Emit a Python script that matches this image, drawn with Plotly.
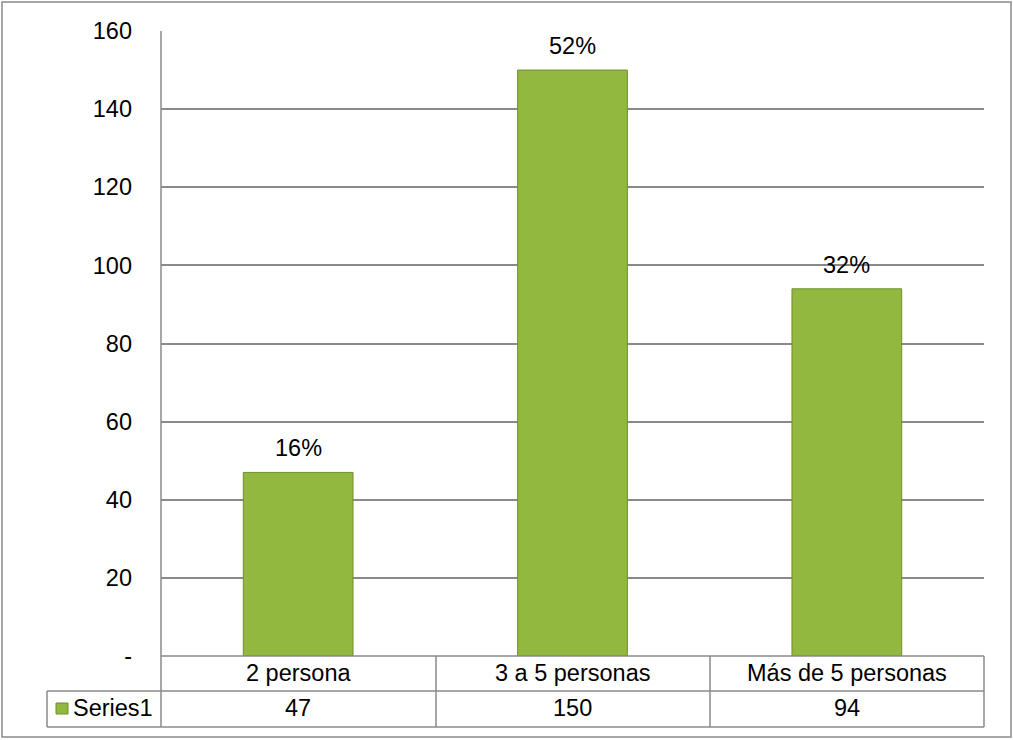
import plotly.graph_objects as go

categories = ["2 persona", "3 a 5 personas", "Más de 5 personas"]
values = [47, 150, 94]
pct_labels = ["16%", "52%", "32%"]
series_name = "Series1"
y_ticks = [0, 20, 40, 60, 80, 100, 120, 140, 160]
y_tick_text = ["-", "20", "40", "60", "80", "100", "120", "140", "160"]

W, H = 1013, 740
L, R, T, B = 161, 984, 31, 656  # plot area pixels

def px(x):
    return (x - L) / (R - L)

def py(y):
    return (B - y) / (B - T)

FONT = "Liberation Sans, Arial, sans-serif"
FS = 23.5
GRAY = "#8a8a8a"

fig = go.Figure()
fig.add_trace(go.Bar(
    x=list(range(len(categories))), y=values, width=0.4,
    marker=dict(color="#92b840", line=dict(color="#6f8f2c", width=1)),
    showlegend=False, hoverinfo="skip",
))

annotations = []
for i, (v, t) in enumerate(zip(values, pct_labels)):
    annotations.append(dict(x=i, y=v, xref="x", yref="y", text=t, showarrow=False,
                            yanchor="bottom", yshift=9, font=dict(size=FS, color="#000", family=FONT)))

# Data table text
for i, (c, v) in enumerate(zip(categories, values)):
    annotations.append(dict(x=i, y=py(673), xref="x", yref="paper", text=c, showarrow=False,
                            yanchor="middle", font=dict(size=FS, color="#000", family=FONT)))
    annotations.append(dict(x=i, y=py(708), xref="x", yref="paper", text=str(v), showarrow=False,
                            yanchor="middle", font=dict(size=FS, color="#000", family=FONT)))
annotations.append(dict(x=px(71), y=py(708), xref="paper", yref="paper", text=series_name,
                        showarrow=False, xanchor="left", yanchor="middle",
                        font=dict(size=FS, color="#000", family=FONT)))

shapes = []
def line(x0, y0, x1, y1, color=GRAY, w=1.5):
    shapes.append(dict(type="line", xref="paper", yref="paper",
                       x0=px(x0), y0=py(y0), x1=px(x1), y1=py(y1),
                       line=dict(color=color, width=w)))

# outer border
shapes.append(dict(type="rect", xref="paper", yref="paper",
                   x0=px(2), y0=py(2), x1=px(1011), y1=py(737),
                   line=dict(color=GRAY, width=1.5), fillcolor="rgba(0,0,0,0)"))
# axis / table lines
line(161, 31, 161, 727)
line(161, 656, 984, 656)
line(47, 691, 984, 691)
line(47, 727, 984, 727)
line(47, 691, 47, 727)
for xb in (436, 710, 984):
    line(xb, 656, xb, 727)
# legend key
shapes.append(dict(type="rect", xref="paper", yref="paper",
                   x0=px(56), y0=py(714), x1=px(68), y1=py(703),
                   line=dict(color="#6f8f2c", width=1), fillcolor="#92b840"))

fig.update_layout(
    width=W, height=H,
    margin=dict(l=L, r=W - R, t=T, b=H - B, pad=0),
    paper_bgcolor="white", plot_bgcolor="white",
    xaxis=dict(range=[-0.5, 2.5], showticklabels=False, showgrid=False, zeroline=False,
               showline=False, ticks=""),
    yaxis=dict(range=[0, 160], tickvals=y_ticks, ticktext=y_tick_text,
               showgrid=True, gridcolor=GRAY, gridwidth=1.5, zeroline=False,
               showline=False, ticks="", ticklabelstandoff=28,
               tickfont=dict(size=FS, color="#000", family=FONT)),
    annotations=annotations, shapes=shapes,
    font=dict(family=FONT),
)

fig.write_html("out.html", config={"displayModeBar": False},
               post_script="document.body.style.margin='0';document.body.style.overflow='hidden';")
